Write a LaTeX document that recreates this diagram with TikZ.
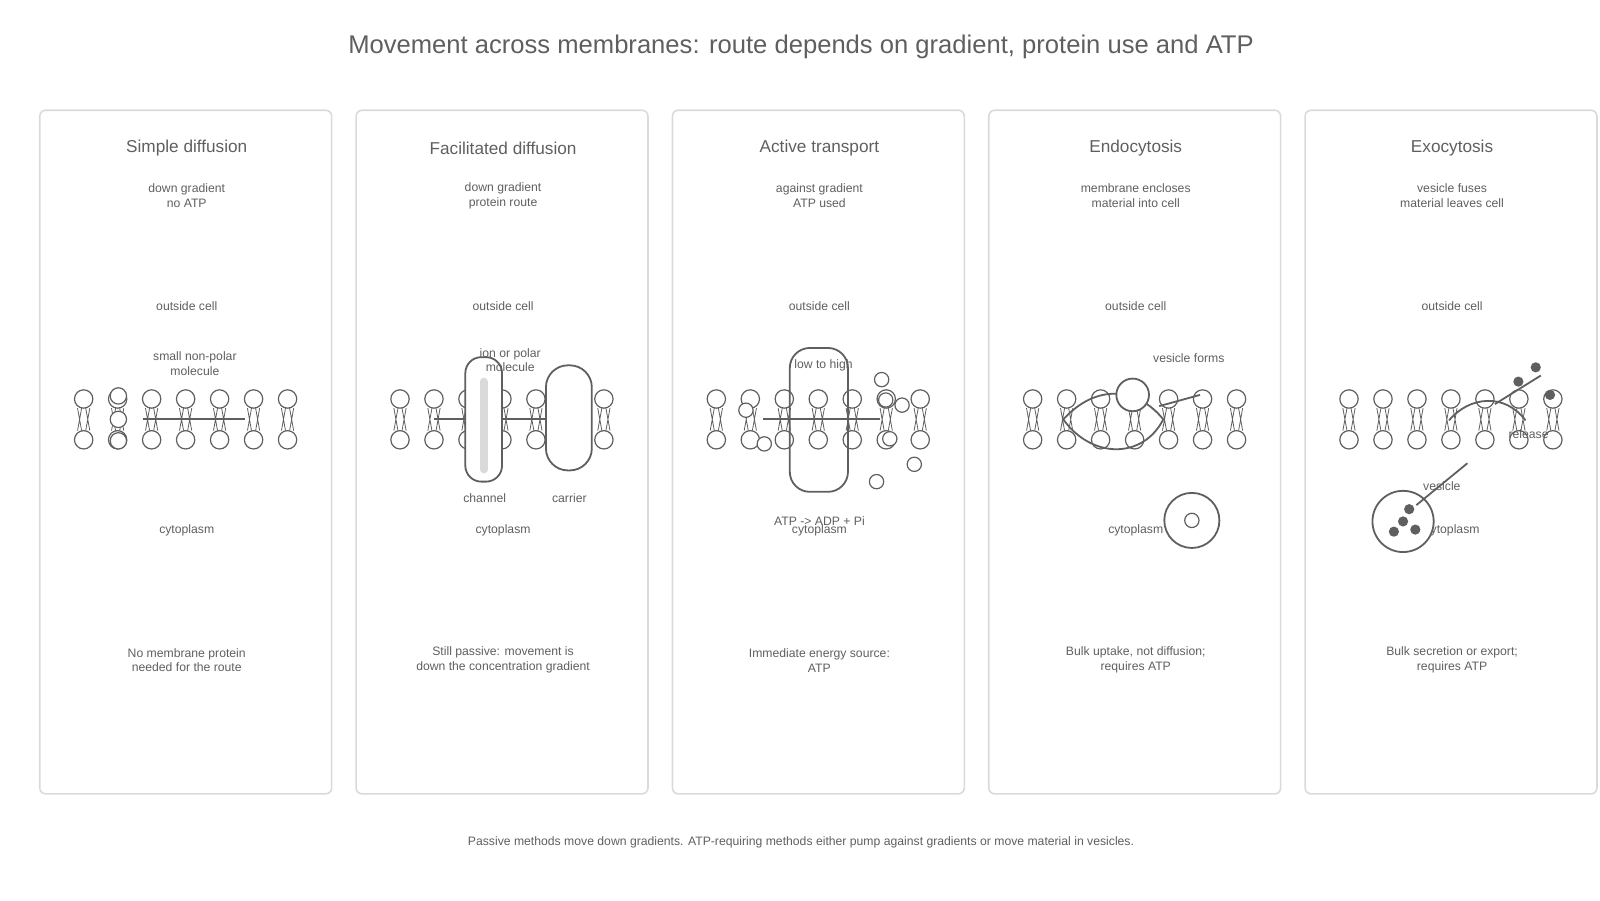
\documentclass[tikz,border=0pt]{standalone}
\usepackage{fontspec}
\setmainfont{Liberation Sans}
\usetikzlibrary{positioning}
\definecolor{ink}{HTML}{5F5F5F}
\definecolor{frame}{HTML}{DADADA}
\tikzset{
    panel/.style={draw=frame, line width=0.8pt, rounded corners=3pt},
    head/.style={draw=ink, fill=white, line width=0.6pt},
    tail/.style={draw=ink, line width=0.4pt},
    part/.style={draw=ink, line width=0.9pt},
    txt/.style={text=ink, font=\fontsize{6.1}{7.4}\selectfont, align=center, inner sep=0pt},
    heading/.style={text=ink, font=\fontsize{8.6}{10}\selectfont, inner sep=0pt},
    dot/.style={fill=ink, draw=none}
}
% one lipid pair at x position #1
\newcommand{\lipidpair}[1]{%
    \draw[tail] (#1-6,400) -- (#1-2,422) (#1-2,400) -- (#1-6,422)
        (#1+6,400) -- (#1+2,422) (#1+2,400) -- (#1+6,422);
    \draw[head] (#1,391) circle (9);
    \draw[head] (#1,431) circle (9);
}
\begin{document}
\begin{tikzpicture}[x=0.5102pt, y=-0.5102pt]
    \useasboundingbox (0,0) rectangle (1568,882);
    \node[text=ink, font=\fontsize{12.8}{15}\selectfont, inner sep=0pt] (title) at (785,46)
        {Movement across membranes: route depends on gradient, protein use and ATP};
    % panels
    \foreach \n/\ttl/\subtxt/\notetxt [count=\i from 0] in {
        simple/{Simple diffusion}/{down gradient\\no ATP}/{No membrane protein\\needed for the route},
        facil/{Facilitated diffusion}/{down gradient\\protein route}/{Still passive: movement is\\down the concentration gradient},
        active/{Active transport}/{against gradient\\ATP used}/{Immediate energy source:\\ATP},
        endo/{Endocytosis}/{membrane encloses\\material into cell}/{Bulk uptake, not diffusion;\\requires ATP},
        exo/{Exocytosis}/{vesicle fuses\\material leaves cell}/{Bulk secretion or export;\\requires ATP}} {
        \pgfmathsetmacro{\xl}{39+310*\i}
        \pgfmathsetmacro{\xc}{\xl+144}
        \draw[panel] (\xl,108) rectangle ++(286,670);
        \node[heading] (\n-head) at (\xc,145) {\ttl};
        \node[txt] (\n-sub) at (\xc,192) {\subtxt};
        \node[txt] (\n-out) at (\xc,300) {outside cell};
        \node[txt] (\n-cyto) at (\xc,520) {cytoplasm};
        \node[txt] (\n-note) at (\xc,647) {\notetxt};
        \foreach \k in {0,...,6} {
            \pgfmathsetmacro{\xh}{\xl+43+33.3*\k}
            \lipidpair{\xh}
        }
    }
    % simple diffusion
    \draw[part] (140,411) -- (240,411);
    \foreach \y in {388,411,432} \draw[head] (116,\y) circle (8);
    \node[txt] (np) at (191,356) {small non-polar\\molecule};
    % facilitated diffusion
    \draw[part] (425,411) -- (535,411);
    \draw[part, fill=white, rounded corners=8pt] (456,350) rectangle (492,472);
    \draw[line width=4pt, frame, line cap=round] (474,374) -- (474,460);
    \draw[part, fill=white, rounded corners=11pt] (535,358) rectangle (580,461);
    \node[txt] (ion) at (500,353) {ion or polar\\molecule};
    \node[txt] (chan) at (475,488) {channel};
    \node[txt] (carr) at (558,488) {carrier};
    % active transport
    \draw[part] (748,411) -- (862,411);
    \draw[part, rounded corners=10pt] (774,341) rectangle (831,482);
    \node[txt] (lth) at (807,358) {low to high};
    \foreach \p in {(864,372),(884,397),(872,430),(896,455),(859,472),(731,402),(749,435),(868,392)}
        \draw[head] \p circle (7);
    \node[txt] (atp) at (803,511) {ATP -> ADP + Pi};
    % endocytosis
    \draw[part] (1042,411) .. controls (1075,375) and (1115,380) .. (1140,411)
        .. controls (1120,450) and (1070,450) .. cycle;
    \draw[head, line width=0.9pt] (1110,387) circle (16);
    \draw[part] (1136,398) -- (1176,387);
    \node[txt] (vf) at (1165,351) {vesicle forms};
    \draw[head, line width=0.9pt] (1168,510) circle (27);
    \draw[head] (1168,510) circle (7);
    % exocytosis
    \draw[part] (1420,412) .. controls (1440,388) and (1475,385) .. (1495,412);
    \draw[part] (1465,396) -- (1510,368);
    \foreach \p in {(1505,360),(1488,374),(1519,387)} \fill[dot] \p circle (5);
    \node[txt] (rel) at (1498,425) {release};
    \draw[head, line width=0.9pt] (1375,511) circle (30);
    \draw[part] (1438,454) -- (1388,495);
    \node[txt] (ves) at (1413,476) {vesicle};
    \foreach \p in {(1381,499),(1375,511),(1366,521),(1387,519)} \fill[dot] \p circle (5);
    % footnote
    \node[txt] (foot) at (785,825) {Passive methods move down gradients. ATP-requiring methods either pump against gradients or move material in vesicles.};
\end{tikzpicture}
\end{document}
